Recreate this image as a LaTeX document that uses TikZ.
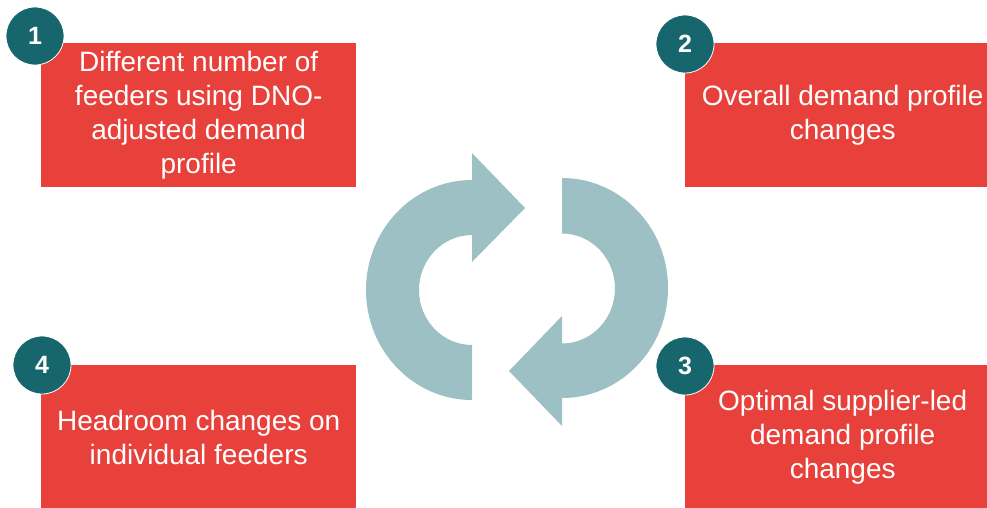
\documentclass[tikz,border=0pt]{standalone}
\usepackage{fontspec}
\setmainfont{Liberation Sans}
\definecolor{boxred}{HTML}{E8403A}
\definecolor{numteal}{HTML}{17666E}
\definecolor{cyclegray}{HTML}{9CC0C3}
\begin{document}
\begin{tikzpicture}[x=1pt,y=-1pt,
  box/.style={fill=boxred, minimum width=315pt, minimum height=144pt, anchor=north west,
    inner sep=0pt, text=white, align=center, font=\fontsize{28}{34}\selectfont},
  num/.style={circle, fill=numteal, draw=white, line width=0.8pt, minimum size=58pt,
    inner sep=0pt, text=white, font=\fontsize{25}{30}\selectfont\bfseries},
  cyc/.style={fill=cyclegray}]
\useasboundingbox (0,0) rectangle (987,507);
\clip (0,0) rectangle (987,507);

\node[box] (b1) at (41,43) {Different number of\\feeders using DNO-\\adjusted demand\\profile};
\node[box] (b2) at (685,43) {Overall demand profile\\changes};
\node[box] (b4) at (41,365) {Headroom changes on\\individual feeders};
\node[box] (b3) at (685,365) {Optimal supplier-led\\demand profile\\changes};

% cycle arrows
\fill[cyc] (472,180) arc[start angle=270, end angle=90, x radius=106, y radius=110]
  -- (472,345) arc[start angle=90, end angle=270, x radius=53, y radius=55]
  -- (472,262) -- (525,208) -- (472,153) -- cycle;
\fill[cyc] (562,178) arc[start angle=270, end angle=450, x radius=106, y radius=110]
  -- (562,426) -- (509,371) -- (562,316) -- (562,343.5)
  arc[start angle=90, end angle=-90, x radius=53, y radius=55] -- cycle;

\node[num] (n1) at (35,36) {1};
\node[num] (n2) at (685,44) {2};
\node[num] (n4) at (42,365) {4};
\node[num] (n3) at (685,366) {3};
\end{tikzpicture}
\end{document}
